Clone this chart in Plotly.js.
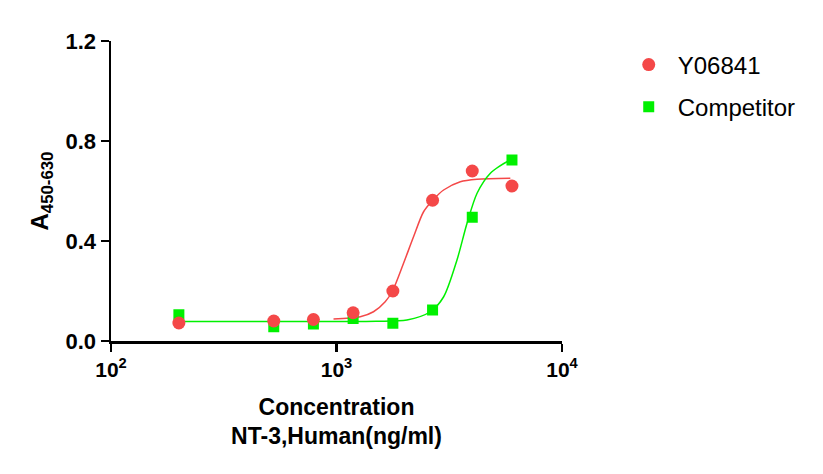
<!DOCTYPE html>
<html>
<head>
<meta charset="utf-8">
<script src="https://cdn.plot.ly/plotly-3.0.1.min.js"></script>
<style>html,body{margin:0;padding:0;background:#fff}</style>
</head>
<body>
<div id="main" style="width:823px;height:474px"></div>
<script>
// measured points, ng/ml
const conc = [200, 527, 790, 1185, 1778, 2667, 4000, 6000]
const y06841 = [0.072, 0.080, 0.086, 0.113, 0.200, 0.563, 0.680, 0.620]
const competitor = [0.105, 0.057, 0.068, 0.090, 0.071, 0.124, 0.495, 0.724]

// fitted curves
const y06841CurveX = [970, 1274, 1459, 1644, 1773, 1983, 2196, 2433, 2678, 2985, 3540, 4200, 5900]
const y06841CurveY = [0.088, 0.097, 0.117, 0.157, 0.201, 0.311, 0.417, 0.517, 0.564, 0.604, 0.637, 0.647, 0.651]
const competitorCurveX = [200, 848, 1500, 2052, 2606, 2987, 3422, 3792, 4201, 4813, 5700, 6030]
const competitorCurveY = [0.078, 0.078, 0.079, 0.084, 0.117, 0.177, 0.324, 0.471, 0.591, 0.671, 0.717, 0.724]

const red = '#F44848'
const green = '#00F000'
const font = 'Arial, "Liberation Sans", sans-serif'

const plotData = [
  {x: y06841CurveX, y: y06841CurveY, type: 'scatter', mode: 'lines',
   line: {color: red, width: 1.5, shape: 'spline', smoothing: 0.8}, showlegend: false, hoverinfo: 'skip'},
  {x: competitorCurveX, y: competitorCurveY, type: 'scatter', mode: 'lines',
   line: {color: green, width: 1.5, shape: 'spline', smoothing: 0.8}, showlegend: false, hoverinfo: 'skip'},
  {x: conc, y: competitor, type: 'scatter', mode: 'markers', name: 'Competitor',
   legendgroup: 'b', legendrank: 2,
   marker: {symbol: 'square', size: 11, color: green}},
  {x: conc, y: y06841, type: 'scatter', mode: 'markers', name: 'Y06841',
   legendgroup: 'a', legendrank: 1,
   marker: {symbol: 'circle', size: 13, color: red}},
]

Plotly.newPlot('main', plotData, {
  width: 823,
  height: 474,
  margin: {l: 111, r: 261, t: 41, b: 133},
  paper_bgcolor: '#fff',
  plot_bgcolor: '#fff',
  font: {family: font, color: '#000'},
  showlegend: true,
  legend: {
    x: 1.128, y: 0.995, xanchor: 'left', yanchor: 'top',
    font: {size: 24, family: font},
    traceorder: 'grouped', tracegroupgap: 8,
    itemwidth: 48,
  },
  xaxis: {
    type: 'log',
    range: [2, 4],
    tickvals: [100, 1000, 10000],
    ticktext: ['10<sup>2</sup>', '10<sup>3</sup>', '10<sup>4</sup>'],
    ticks: 'outside', ticklen: 8, tickwidth: 2.5, tickcolor: '#000',
    tickfont: {size: 21, weight: 'bold'},
    showline: true, linewidth: 2.5, linecolor: '#000',
    showgrid: false, zeroline: false,
    title: {text: 'Concentration<br>NT-3,Human(ng/ml)', font: {size: 23, weight: 'bold'}, standoff: 19},
  },
  yaxis: {
    range: [0, 1.2],
    tickvals: [0, 0.4, 0.8, 1.2],
    ticktext: ['0.0', '0.4', '0.8', '1.2'],
    ticks: 'outside', ticklen: 8, tickwidth: 2.5, tickcolor: '#000',
    tickfont: {size: 22, weight: 'bold'},
    showline: true, linewidth: 2.5, linecolor: '#000',
    showgrid: false, zeroline: false,
    title: {text: 'A<sub>450-630</sub>', font: {size: 24, weight: 'bold'}, standoff: 10},
  },
}, {staticPlot: true})
</script>
</body>
</html>
